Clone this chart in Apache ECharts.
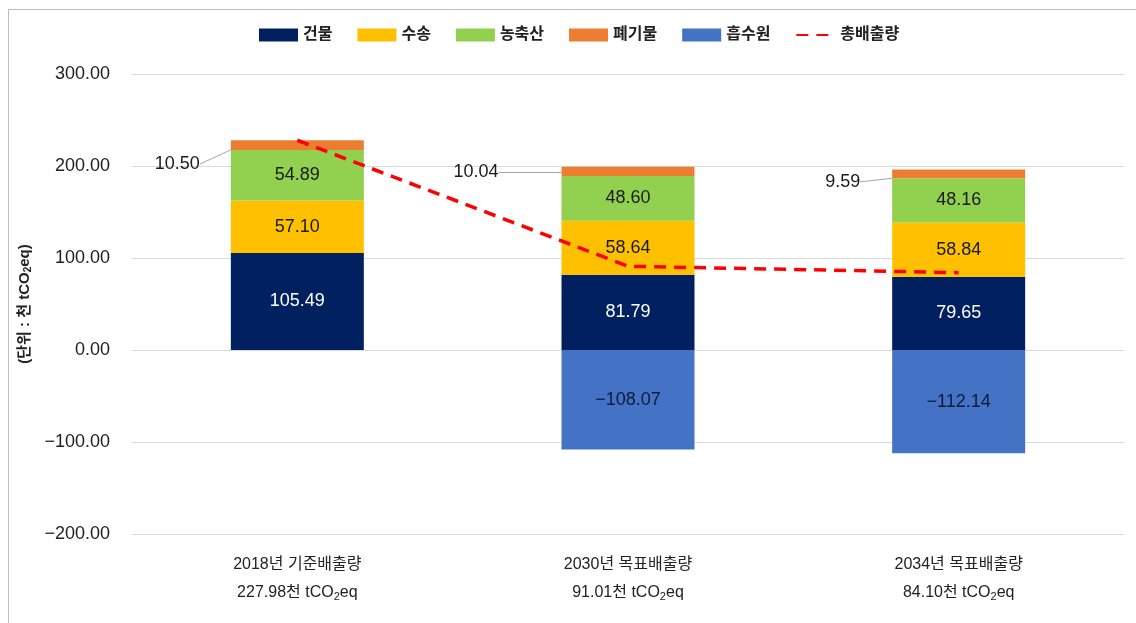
<!DOCTYPE html>
<html>
<head>
<meta charset="utf-8">
<script src="https://cdn.jsdelivr.net/npm/echarts@6/dist/echarts.min.js"></script>
<style>
html,body{margin:0;padding:0;background:#fff;}
#chart{width:1136px;height:623px;}
</style>
</head>
<body>
<div id="chart"></div>
<script>
const categories = ['2018년 기준배출량', '2030년 목표배출량', '2034년 목표배출량'];
const building = [105.49, 81.79, 79.65];
const transport = [57.10, 58.64, 58.84];
const agriculture = [54.89, 48.60, 48.16];
const waste = [10.50, 10.04, 9.59];
const sink = [null, -108.07, -112.14];
const total = [227.98, 91.01, 84.10];
const yTicks = [-200, -100, 0, 100, 200, 300];

const FONT = '"Liberation Sans", "Noto Sans CJK KR", sans-serif';
const fmt = v => (v < 0 ? '\u2212' : '') + Math.abs(v).toFixed(2);

const chart = echarts.init(document.getElementById('chart'));

function barSeries(name, data, color, labelColor) {
  return {
    name, type: 'bar', stack: 'total', data, barWidth: 133,
    itemStyle: { color },
    label: {
      show: true, position: 'inside', color: labelColor,
      fontFamily: FONT, fontSize: 18,
      formatter: p => fmt(p.value)
    },
    emphasis: { disabled: true }
  };
}

const wasteOffsets = [[-26, 19], [-58, 1], [-27, 8]];

chart.setOption({
  animation: false,
  backgroundColor: '#fff',
  textStyle: { fontFamily: FONT },
  graphic: [{
    type: 'rect', silent: true,
    shape: { x: 8.5, y: 9.5, width: 1300, height: 800 },
    style: { fill: 'none', stroke: '#bdbdbd', lineWidth: 1 }
  }],
  legend: {
    top: 22, left: 254,
    itemWidth: 39, itemHeight: 13, itemGap: 25,
    textStyle: { fontFamily: FONT, fontSize: 16, fontWeight: 'bold', color: '#222' },
    data: [
      { name: '건물', icon: 'rect' },
      { name: '수송', icon: 'rect' },
      { name: '농축산', icon: 'rect' },
      { name: '폐기물', icon: 'rect' },
      { name: '흡수원', icon: 'rect' },
      { name: '총배출량', itemStyle: { opacity: 0 } }
    ]
  },
  grid: { left: 132, right: 12, top: 74, bottom: 89 },
  xAxis: {
    type: 'category', data: categories,
    axisLine: { show: false, onZero: false },
    axisTick: { show: false },
    axisLabel: {
      margin: 17, lineHeight: 28,
      formatter: (v, i) => `{a|${v}}\n{a|${total[i].toFixed(2)}천 tCO}{s|2}{a|eq}`,
      rich: {
        a: { fontFamily: FONT, fontSize: 16, color: '#222', lineHeight: 28 },
        s: { fontFamily: FONT, fontSize: 11, color: '#222', padding: [8, 0, 0, 0], lineHeight: 28 }
      }
    }
  },
  yAxis: {
    type: 'value', min: yTicks[0], max: yTicks[yTicks.length - 1], interval: 100,
    axisLine: { show: false }, axisTick: { show: false },
    splitLine: { lineStyle: { color: '#d9d9d9', width: 1 } },
    axisLabel: { margin: 22, fontFamily: FONT, fontSize: 18, color: '#222', formatter: fmt },
    name: '{a|(단위 : 천 tCO}{s|2}{a|eq)}',
    nameLocation: 'middle', nameRotate: 90, nameGap: 96,
    nameTextStyle: {
      rich: {
        a: { fontFamily: FONT, fontSize: 15, fontWeight: 'bold', color: '#222', lineHeight: 22 },
        s: { fontFamily: FONT, fontSize: 10, fontWeight: 'bold', color: '#222', lineHeight: 22, padding: [7, 0, 0, 0] }
      }
    }
  },
  series: [
    barSeries('건물', building, '#002060', '#ffffff'),
    barSeries('수송', transport, '#FFC000', '#1a1a1a'),
    barSeries('농축산', agriculture, '#92D050', '#1a1a1a'),
    Object.assign(barSeries('폐기물', waste, '#ED7D31', '#1a1a1a'), {
      label: { show: true, position: 'left', distance: 5, color: '#1a1a1a', fontFamily: FONT, fontSize: 18, formatter: p => fmt(p.value) },
      labelLine: { show: true, lineStyle: { color: '#a6a6a6', width: 1 } },
      labelLayout: p => ({ dx: wasteOffsets[p.dataIndex][0], dy: wasteOffsets[p.dataIndex][1] })
    }),
    barSeries('흡수원', sink, '#4472C4', '#0d1a3a'),
    {
      name: '총배출량', type: 'line', data: total, symbol: 'none', z: 10,
      lineStyle: { color: '#FF0000', width: 3.5, type: [12, 8] },
      itemStyle: { color: '#FF0000' },
      emphasis: { disabled: true }
    }
  ]
});
</script>
</body>
</html>
